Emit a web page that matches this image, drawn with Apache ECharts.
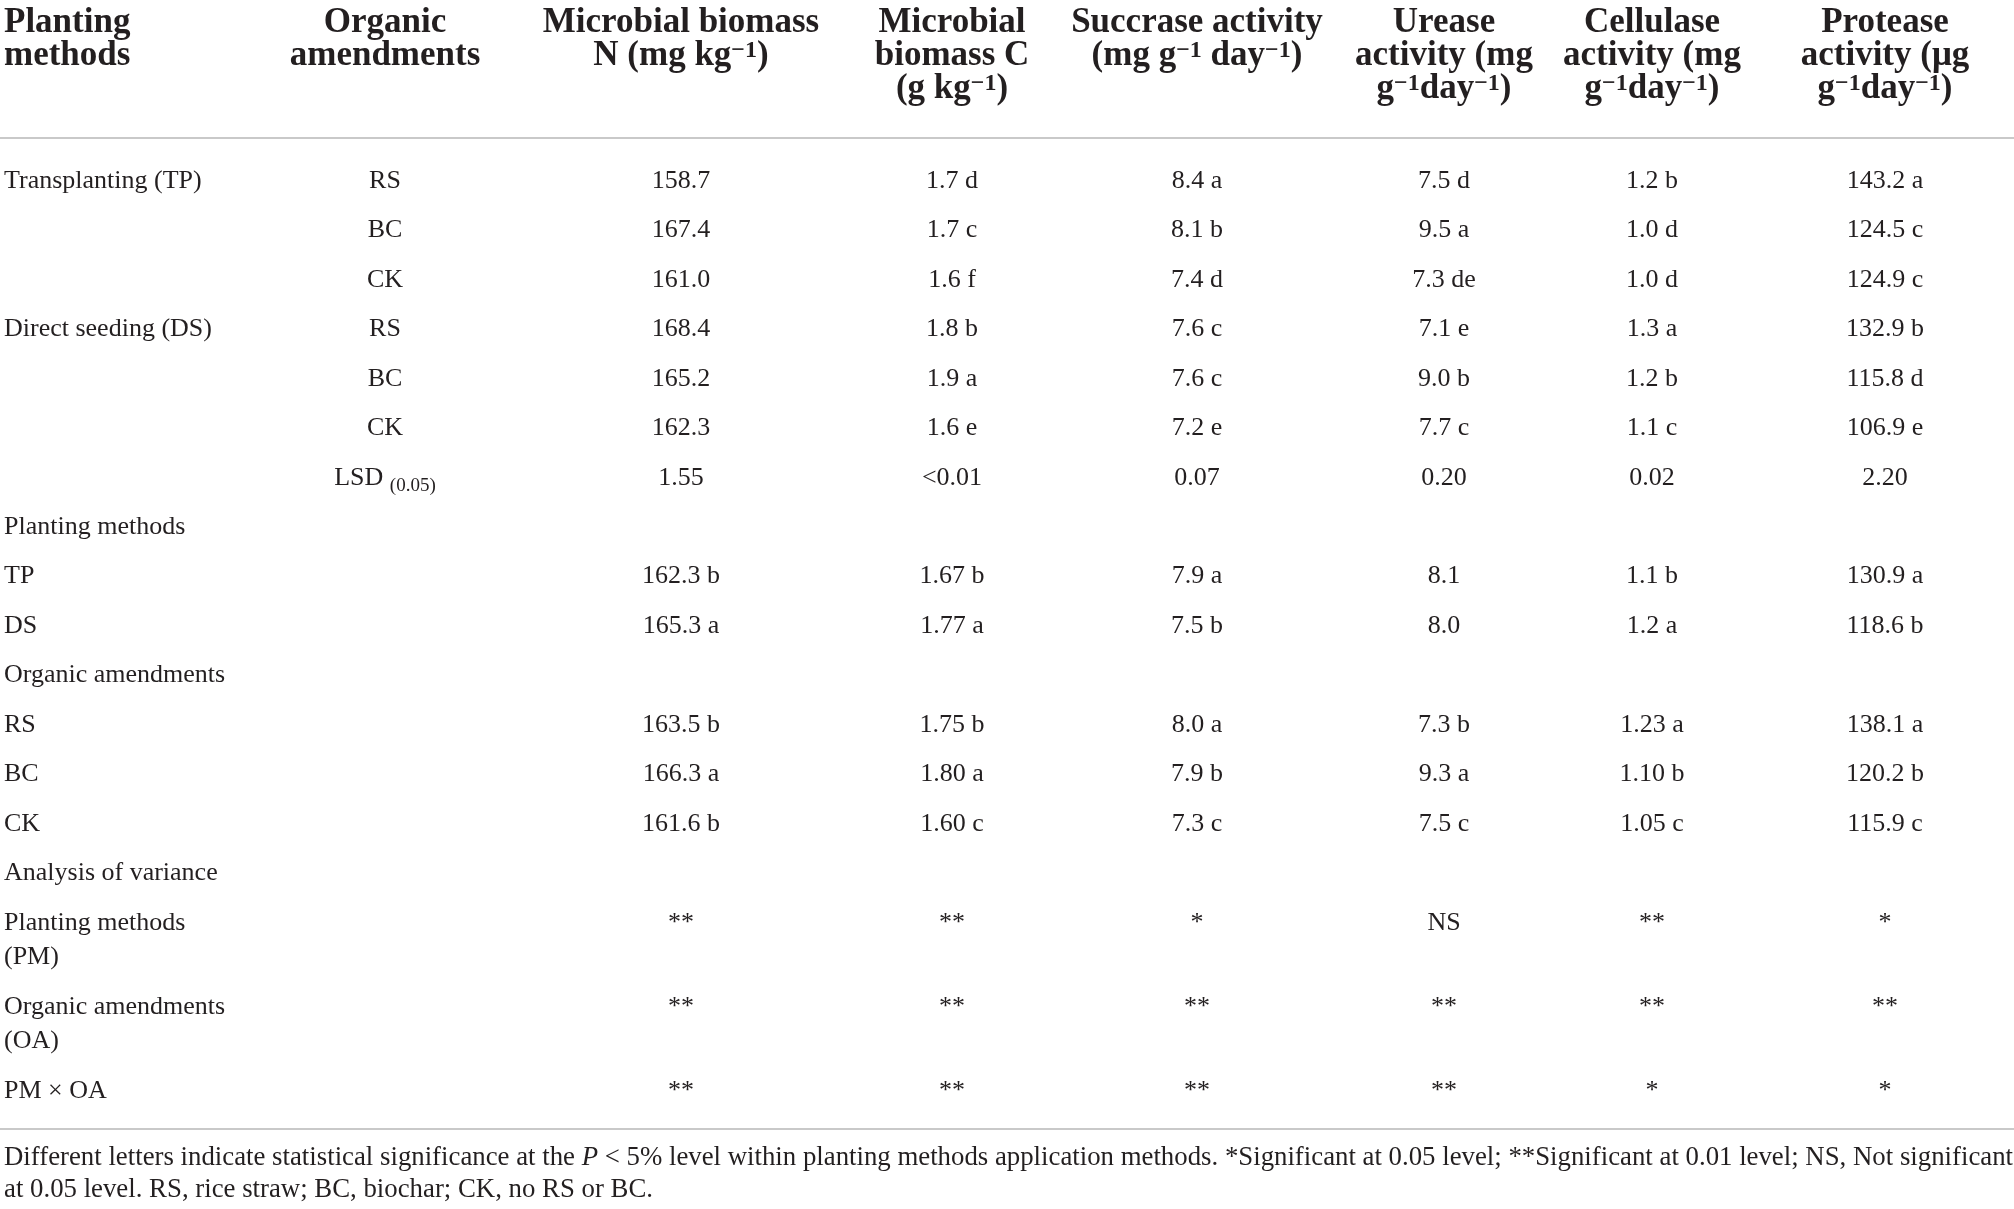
<!DOCTYPE html>
<html lang="en">
<head>
<meta charset="UTF-8">
<title>Planting methods x organic amendments</title>
<script src="https://cdn.jsdelivr.net/npm/echarts@6/dist/echarts.min.js"></script>
<style>
  html, body { margin: 0; padding: 0; background: #fff; }
  #main { width: 2014px; height: 1209px; }
</style>
</head>
<body>
<div id="main"></div>
<script>
// column headings ({s|..} = superscript)
const headers = [
  'Planting\nmethods',
  'Organic\namendments',
  'Microbial biomass\nN (mg kg{s|−1})',
  'Microbial\nbiomass C\n(g kg{s|−1})',
  'Succrase activity\n(mg g{s|−1} day{s|−1})',
  'Urease\nactivity (mg\ng{s|−1}day{s|−1})',
  'Cellulase\nactivity (mg\ng{s|−1}day{s|−1})',
  'Protease\nactivity (μg\ng{s|−1}day{s|−1})'
];

// first two columns, one entry per table row
const rowLabels = [
  'Transplanting (TP)', '', '', 'Direct seeding (DS)', '', '', '',
  'Planting methods', 'TP', 'DS',
  'Organic amendments', 'RS', 'BC', 'CK',
  'Analysis of variance', 'Planting methods\n(PM)', 'Organic amendments\n(OA)', 'PM × OA'
];
const amendments = ['RS', 'BC', 'CK', 'RS', 'BC', 'CK', 'LSD {sub|(0.05)}',
  '', '', '', '', '', '', '', '', '', '', ''];

// measured values
const microN = ['158.7', '167.4', '161.0', '168.4', '165.2', '162.3', '1.55',
  '', '162.3 b', '165.3 a', '', '163.5 b', '166.3 a', '161.6 b', '', '**', '**', '**'];
const microC = ['1.7 d', '1.7 c', '1.6 f', '1.8 b', '1.9 a', '1.6 e', '<0.01',
  '', '1.67 b', '1.77 a', '', '1.75 b', '1.80 a', '1.60 c', '', '**', '**', '**'];
const succrase = ['8.4 a', '8.1 b', '7.4 d', '7.6 c', '7.6 c', '7.2 e', '0.07',
  '', '7.9 a', '7.5 b', '', '8.0 a', '7.9 b', '7.3 c', '', '*', '**', '**'];
const urease = ['7.5 d', '9.5 a', '7.3 de', '7.1 e', '9.0 b', '7.7 c', '0.20',
  '', '8.1', '8.0', '', '7.3 b', '9.3 a', '7.5 c', '', 'NS', '**', '**'];
const cellulase = ['1.2 b', '1.0 d', '1.0 d', '1.3 a', '1.2 b', '1.1 c', '0.02',
  '', '1.1 b', '1.2 a', '', '1.23 a', '1.10 b', '1.05 c', '', '**', '**', '*'];
const protease = ['143.2 a', '124.5 c', '124.9 c', '132.9 b', '115.8 d', '106.9 e', '2.20',
  '', '130.9 a', '118.6 b', '', '138.1 a', '120.2 b', '115.9 c', '', '*', '**', '*'];

const footnote = [
  'Different letters indicate statistical significance at the {i|P} < 5% level within planting methods application methods. *Significant at 0.05 level; **Significant at 0.01 level; NS, Not significant',
  'at 0.05 level. RS, rice straw; BC, biochar; CK, no RS or BC.'
];

// ---- layout ----
const W = 2014, H = 1209;
const colX = [4, 385, 681, 952, 1197, 1444, 1652, 1885];
const serif = '"Liberation Serif", "DejaVu Serif", serif';
const ink = '#231f20';
const headTop = 6, headLH = 33, headSize = 35;
const firstRowY = 181, rowPitch = 49.45, lineLH = 34.7, bodySize = 26;
const headerRule = 138;
const footSize = 26.8;

const columns = [rowLabels, amendments, microN, microC, succrase, urease, cellulase, protease];

// vertical centre of the first line of every row
const rowY = [];
rowLabels.forEach((lab, i) => {
  if (i === 0) { rowY.push(firstRowY); return; }
  const prevLines = rowLabels[i - 1].split('\n').length;
  rowY.push(rowY[i - 1] + rowPitch + lineLH * (prevLines - 1));
});
const bottomRule = rowY[rowY.length - 1] + 38;

const cells = [];
headers.forEach((t, c) => cells.push({ x: colX[c], y: headTop, text: t, col: c, head: true }));
columns.forEach((arr, c) => {
  arr.forEach((t, r) => {
    if (t !== '') cells.push({ x: colX[c], y: rowY[r] - lineLH / 2, text: t, col: c, head: false });
  });
});

const chart = echarts.init(document.getElementById('main'));

const option = {
  animation: false,
  backgroundColor: '#fff',
  grid: { left: 0, right: 0, top: 0, bottom: 0 },
  xAxis: { type: 'value', min: 0, max: W, show: false },
  yAxis: { type: 'value', min: 0, max: H, inverse: true, show: false },
  title: {
    left: 4,
    top: 1142,
    padding: 0,
    text: footnote.map(s => '{n|' + s.replace(/\{i\|P\}/, '}{i|P}{n|') + '}').join('\n'),
    textStyle: {
      fontWeight: 'normal',
      fontFamily: serif,
      fontSize: footSize,
      color: ink,
      rich: {
        n: { fontFamily: serif, fontSize: footSize, fontWeight: 'normal', color: ink, lineHeight: 32 },
        i: { fontFamily: serif, fontSize: footSize, fontWeight: 'normal', color: ink, lineHeight: 32, fontStyle: 'italic' }
      }
    }
  },
  series: [{
    type: 'custom',
    coordinateSystem: 'cartesian2d',
    silent: true,
    clip: false,
    data: cells.map(c => [c.x, c.y]),
    renderItem: (params, api) => {
      const cell = cells[params.dataIndex];
      const p = api.coord([api.value(0), api.value(1)]);
      const size = cell.head ? headSize : bodySize;
      const lh = cell.head ? headLH : lineLH;
      const weight = cell.head ? 'bold' : 'normal';
      return {
        type: 'text',
        x: p[0],
        y: p[1],
        style: {
          text: cell.text,
          fill: ink,
          fontFamily: serif,
          fontSize: size,
          fontWeight: weight,
          lineHeight: lh,
          align: cell.col === 0 ? 'left' : 'center',
          verticalAlign: 'top',
          rich: {
            s: { fontFamily: serif, fontSize: Math.round(size * 0.68), fontWeight: weight, fill: ink, lineHeight: lh, verticalAlign: 'top' },
            sub: { fontFamily: serif, fontSize: 19, fill: ink, lineHeight: lh, verticalAlign: 'bottom' }
          }
        }
      };
    },
    markLine: {
      silent: true,
      symbol: 'none',
      label: { show: false },
      lineStyle: { color: '#c9c9c9', width: 2, type: 'solid' },
      data: [{ yAxis: headerRule }, { yAxis: bottomRule }]
    }
  }]
};

chart.setOption(option);
window.addEventListener('resize', () => chart.resize());
</script>
</body>
</html>
